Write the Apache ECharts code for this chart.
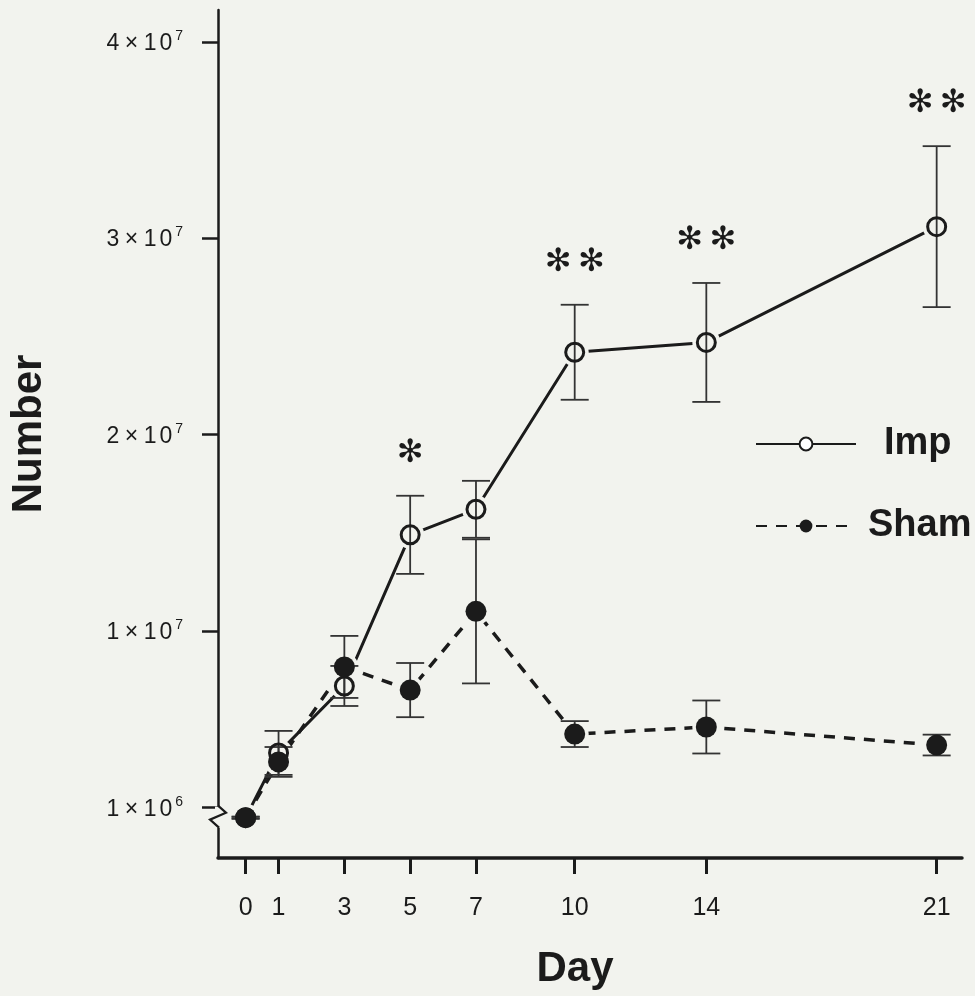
<!DOCTYPE html>
<html>
<head>
<meta charset="utf-8">
<script src="https://cdn.jsdelivr.net/npm/echarts@6/dist/echarts.min.js"></script>
<style>
  html, body { margin: 0; padding: 0; background: #f2f3ee; }
  #chart { width: 975px; height: 996px; }
</style>
</head>
<body>
<div id="chart"></div>
<script>
// Cell counts after implantation (Imp) vs sham operation, mean ± error
const days = [0, 1, 3, 5, 7, 10, 14, 21];
const impMean  = [0.49e6, 3.79e6, 7.2e6, 1.49e7, 1.62e7, 2.42e7, 2.47e7, 3.06e7];
const impErr   = [0.05e6, 1.12e6, 1.02e6, 1.99e6, 1.45e6, 2.42e6, 3.03e6, 4.1e6];
const shamMean = [0.49e6, 3.33e6, 8.17e6, 6.99e6, 1.10e7, 4.75e6, 5.11e6, 4.19e6];
const shamErr  = [0.05e6, 0.76e6, 1.58e6, 1.38e6, 3.67e6, 0.66e6, 1.35e6, 0.53e6];
const impSignif = ['', '', '', '✻', '', '✻\u2009✻', '✻\u2009✻', '✻\u2009✻'];
const yTickValues = [1e6, 1e7, 2e7, 3e7, 4e7];
const xTickValues = days;

const INK = '#1b1b1b';
const BG = '#f2f3ee';
const FONT = "'Liberation Sans', Arial, Helvetica, sans-serif";
const X_MIN = -0.84, X_MAX = 21.77;
const Y_MIN = -1.564e6, Y_MAX = 4.1636e7;

// "m × 10^e" with a raised exponent
function expLabel(v) {
  const e = Math.floor(Math.log10(v) + 1e-9);
  const m = Math.round(v / Math.pow(10, e));
  return '{a|' + m + '}{g| }{a|×}{g| }{a|1}{h| }{a|0}{s|' + e + '}';
}

function errorBarSeries(name, mean, err, marks) {
  return {
    type: 'custom',
    name: name + ' error',
    z: 4,
    silent: true,
    clip: false,
    data: days.map((d, i) => [d, mean[i], err[i], marks ? marks[i] : '']),
    renderItem: function (params, api) {
      const x = api.value(0), m = api.value(1), e = api.value(2);
      const top = api.coord([x, m + e]);
      const bot = api.coord([x, m - e]);
      const hw = 14;
      const style = { stroke: '#333', lineWidth: 1.8 };
      const children = [
        { type: 'line', shape: { x1: top[0], y1: top[1], x2: bot[0], y2: bot[1] }, style },
        { type: 'line', shape: { x1: top[0] - hw, y1: top[1], x2: top[0] + hw, y2: top[1] }, style },
        { type: 'line', shape: { x1: bot[0] - hw, y1: bot[1], x2: bot[0] + hw, y2: bot[1] }, style }
      ];
      const mark = api.value(3);
      if (mark) {
        children.push({
          type: 'text',
          style: {
            x: top[0], y: top[1] - 42, text: mark,
            fill: INK, font: "32px 'DejaVu Sans', sans-serif",
            align: 'center', verticalAlign: 'middle'
          }
        });
      }
      return { type: 'group', children };
    }
  };
}

const chart = echarts.init(document.getElementById('chart'), null, { renderer: 'canvas' });

const option = {
  backgroundColor: BG,
  animation: false,
  textStyle: { fontFamily: FONT, color: INK },
  grid: { left: 218, right: 13, top: 10, bottom: 138, containLabel: false, outerBoundsMode: 'none' },
  legend: {
    left: 755, top: 424, padding: 0,
    orient: 'vertical',
    itemWidth: 100, itemHeight: 16, itemGap: 42,
    data: ['Imp', 'Sham'],
    formatter: function (name) { return name === 'Imp' ? '{i|Imp}' : '{s|Sham}'; },
    textStyle: {
      fontFamily: FONT, fontSize: 38, fontWeight: 'bold', color: INK, lineHeight: 40,
      rich: {
        i: { fontFamily: FONT, fontSize: 38, fontWeight: 'bold', color: INK, lineHeight: 40, padding: [0, 0, 0, 23] },
        s: { fontFamily: FONT, fontSize: 38, fontWeight: 'bold', color: INK, lineHeight: 40, padding: [0, 0, 0, 7] }
      }
    }
  },
  xAxis: {
    type: 'value',
    min: X_MIN, max: X_MAX,
    name: 'Day',
    nameLocation: 'middle',
    nameGap: 90,
    nameTextStyle: { fontFamily: FONT, fontSize: 42, fontWeight: 'bold', color: INK, padding: [0, 30, 0, 0] },
    splitLine: { show: false },
    axisLine: { show: true, onZero: false, lineStyle: { color: INK, width: 3.5 } },
    axisTick: { show: true, customValues: xTickValues, length: 16, lineStyle: { color: INK, width: 3 } },
    axisLabel: { show: true, customValues: xTickValues, margin: 38, fontSize: 25, color: INK, fontFamily: FONT }
  },
  yAxis: {
    type: 'value',
    min: Y_MIN, max: Y_MAX,
    name: 'Number',
    nameLocation: 'middle',
    nameGap: 168,
    nameRotate: 90,
    nameTextStyle: { fontFamily: FONT, fontSize: 42, fontWeight: 'bold', color: INK },
    splitLine: { show: false },
    axisLine: { show: true, onZero: false, lineStyle: { color: INK, width: 2.5 } },
    axisTick: { show: true, customValues: yTickValues, length: 16, lineStyle: { color: INK, width: 2.5 } },
    axisLabel: {
      show: true, customValues: yTickValues, margin: 35,
      fontSize: 23, color: INK, fontFamily: FONT,
      formatter: expLabel,
      rich: {
        a: { fontSize: 23, color: INK, fontFamily: FONT, lineHeight: 26, verticalAlign: 'bottom' },
        g: { fontSize: 20, color: INK, fontFamily: FONT, lineHeight: 26, verticalAlign: 'bottom' },
        h: { fontSize: 10, color: INK, fontFamily: FONT, lineHeight: 26, verticalAlign: 'bottom' },
        s: { fontSize: 14, color: INK, fontFamily: FONT, lineHeight: 26, verticalAlign: 'top', padding: [0, 0, 11, 3] }
      }
    }
  },
  series: [
    {
      name: 'Imp', type: 'line', z: 2,
      data: days.map((d, i) => [d, impMean[i]]),
      symbol: 'emptyCircle', symbolSize: 13, showSymbol: false,
      lineStyle: { color: INK, width: 3 },
      itemStyle: { color: INK, borderColor: INK, borderWidth: 2.5 }
    },
    {
      name: 'Sham', type: 'line', z: 2,
      data: days.map((d, i) => [d, shamMean[i]]),
      symbol: 'circle', symbolSize: 16, showSymbol: false,
      lineStyle: { color: INK, width: 3.5, type: [11, 9] },
      itemStyle: { color: INK }
    },
    // background halos keep a small gap between the lines and the markers
    {
      type: 'scatter', name: 'halo', z: 3, silent: true,
      symbol: 'circle', symbolSize: 28,
      itemStyle: { color: BG, opacity: 1 },
      data: days.map((d, i) => [d, impMean[i]]).concat(days.map((d, i) => [d, shamMean[i]]))
    },
    errorBarSeries('Imp', impMean, impErr, impSignif),
    errorBarSeries('Sham', shamMean, shamErr, null),
    {
      type: 'scatter', name: 'Imp marker', z: 5, silent: true,
      symbol: 'circle', symbolSize: 18,
      itemStyle: { color: 'rgba(0,0,0,0)', borderColor: INK, borderWidth: 3, opacity: 1 },
      data: days.map((d, i) => [d, impMean[i]])
    },
    {
      type: 'scatter', name: 'Sham marker', z: 6, silent: true,
      symbol: 'circle', symbolSize: 21,
      itemStyle: { color: INK, opacity: 1 },
      data: days.map((d, i) => [d, shamMean[i]])
    },
    // zigzag break drawn on the value axis just below the first labelled tick
    {
      type: 'custom', name: 'axis break', z: 7, silent: true, clip: false,
      data: [[X_MIN, yTickValues[0]]],
      renderItem: function (params, api) {
        const p = api.coord([api.value(0), api.value(1)]);
        return {
          type: 'group',
          children: [
            { type: 'rect', shape: { x: p[0] - 3, y: p[1] - 1, width: 6, height: 21 }, style: { fill: BG } },
            {
              type: 'polyline',
              shape: { points: [[p[0], p[1] - 2], [p[0] + 8, p[1] + 5], [p[0] - 8, p[1] + 12], [p[0] + 1, p[1] + 20]] },
              style: { stroke: INK, lineWidth: 2.2, fill: null }
            }
          ]
        };
      }
    }
  ]
};

chart.setOption(option);
</script>
</body>
</html>
